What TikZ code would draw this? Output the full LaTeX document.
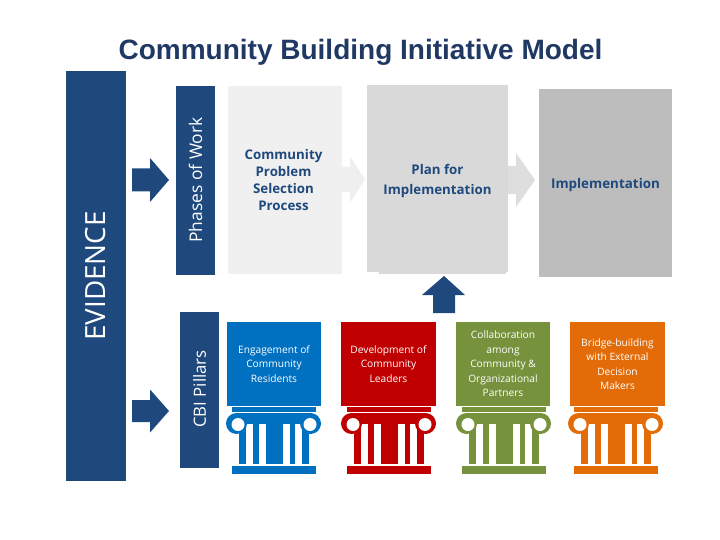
\documentclass[tikz,border=0pt]{standalone}
\usepackage{fontspec}
\setmainfont{Open Sans}
\newfontfamily\titlefont{Liberation Sans}
\definecolor{navy}{HTML}{1F497D}
\definecolor{titlenavy}{HTML}{1F3864}
\definecolor{pblue}{HTML}{0070C0}
\definecolor{pred}{HTML}{C00000}
\definecolor{pgreen}{HTML}{76923C}
\definecolor{porange}{HTML}{E36C09}
\definecolor{gonebox}{HTML}{F0F0F0}
\definecolor{gtwobox}{HTML}{D9D9D9}
\definecolor{gthreebox}{HTML}{BDBDBD}
\definecolor{gonearrow}{HTML}{EFEFEF}
\definecolor{gtwoarrow}{HTML}{DEDEDE}
\tikzset{
  blockbox/.style={inner sep=0pt,outer sep=0pt,align=center},
  phasetext/.style={blockbox,text=navy,font=\fontsize{13.3}{17.3}\selectfont\bfseries},
  pillartext/.style={blockbox,text=white,font=\fontsize{10.2}{14.5}\selectfont},
  sidebar/.style={blockbox,fill=navy,text=white,rotate=90},
}
% name, x1, y1, x2, y2, style, text
\newcommand{\boxat}[7]{%
  \node[blockbox,#6,minimum width={(#4-#2)*1pt},minimum height={(#5-#3)*1pt}]
    (#1) at ({(#2+#4)/2},{(#3+#5)/2}) {#7};}
% horizontal arrow: x-start, neck x, tip x, centre y, shaft half, head half, colour
\newcommand{\harrow}[7]{%
  \fill[#7] (#1,#4-#5) -- (#2,#4-#5) -- (#2,#4-#6) -- (#3,#4) -- (#2,#4+#6) -- (#2,#4+#5) -- (#1,#4+#5) -- cycle;}
\newcommand{\pillarshape}[2]{%
  \begin{scope}[shift={(#1,0)}]
    \fill[#2] (232,407) rectangle (316,412);
    \fill[#2] (232,466) rectangle (316,474);
    \fill[#2] (236,413) rectangle (311,424);
    \fill[#2] (236.5,423.5) circle[radius=10.5pt];
    \fill[#2] (310.5,423.5) circle[radius=10.5pt];
    \fill[#2] (239,424) rectangle (246,464);
    \fill[#2] (253,424) rectangle (259,464);
    \fill[#2] (266,424) rectangle (283,464);
    \fill[#2] (290,424) rectangle (295,464);
    \fill[#2] (302,424) rectangle (309,464);
    \fill[white] (238,424.5) circle[radius=6.5pt];
    \fill[white] (310,424.5) circle[radius=6.5pt];
  \end{scope}}
\begin{document}
\begin{tikzpicture}[x=1pt,y=-1pt]
\useasboundingbox (0,0) rectangle (720,540);
\node[inner sep=0pt,text=titlenavy,font=\titlefont\fontsize{28}{32}\selectfont\bfseries] (title) at (360.5,52.5) {Community Building Initiative Model};

% side bars
\node[sidebar,minimum width=410pt,minimum height=60pt,font=\fontsize{27.8}{32}\selectfont] (evidence) at (96,276) {EVIDENCE};
\node[sidebar,minimum width=189pt,minimum height=39pt,font=\fontsize{17.4}{20}\selectfont] (phases) at (195.5,180.5) {\hspace{1pt}Phases of Work};
\node[sidebar,minimum width=156pt,minimum height=39pt,font=\fontsize{16.8}{20}\selectfont] (pillars) at (199.5,390) {\hspace{2pt}CBI Pillars};

% navy arrows
\harrow{132}{150}{169}{180}{11.5}{22}{navy}
\harrow{132}{150}{169}{411}{11}{21.5}{navy}

% phases
\fill[gtwobox] (379,270) rectangle (506,274);
\boxat{selection}{228}{86}{342}{274}{fill=gonebox,phasetext}{\hspace{-3pt}Community\\\hspace{-3pt}Problem\\\hspace{-3pt}Selection\\\hspace{-3pt}Process}
\harrow{342}{350}{365}{179.5}{12.5}{23}{gonearrow}
\boxat{plan}{367}{85}{508}{272}{fill=gtwobox,phasetext,font=\fontsize{13.3}{20}\selectfont\bfseries}{\raisebox{-2pt}[\height][\depth]{\begin{tabular}{@{}c@{}}Plan for\\Implementation\end{tabular}}}
\harrow{508}{516}{535}{180}{14}{27}{gtwoarrow}
\boxat{implementation}{539}{89}{672}{277}{fill=gthreebox,phasetext,font=\fontsize{13.4}{20}\selectfont\bfseries}{\raisebox{-2pt}[\height][\depth]{Implementation}}

% up arrow
\fill[navy] (433,313) -- (455,313) -- (455,295) -- (465,295) -- (444,276) -- (422,295) -- (433,295) -- cycle;

% pillars
\boxat{engage}{227}{322}{321}{406}{fill=pblue,pillartext}{Engagement of\\Community\\Residents}
\boxat{develop}{341}{322}{436}{406}{fill=pred,pillartext}{Development of\\Community\\Leaders}
\boxat{collab}{456}{322}{550}{406}{fill=pgreen,pillartext}{Collaboration\\among\\Community \&\\Organizational\\Partners}
\boxat{bridge}{570}{322}{665}{406}{fill=porange,pillartext}{Bridge-building\\with External\\Decision\\Makers}
\pillarshape{0}{pblue}
\pillarshape{115}{pred}
\pillarshape{230}{pgreen}
\pillarshape{342}{porange}
\end{tikzpicture}
\end{document}
